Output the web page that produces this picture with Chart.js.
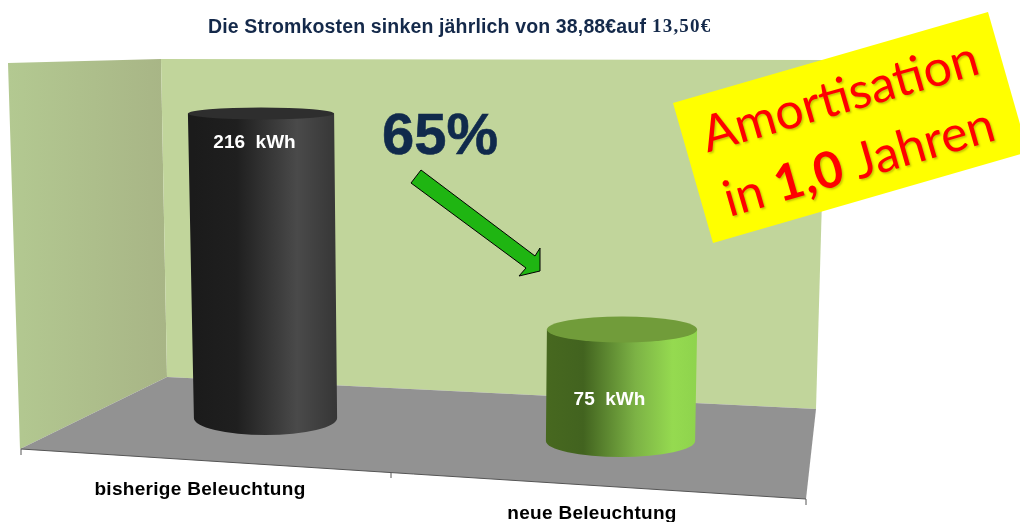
<!DOCTYPE html>
<html>
<head>
<meta charset="utf-8">
<script src="https://cdn.jsdelivr.net/npm/chart.js@4"></script>
<style>
    html, body { margin: 0; padding: 0; background: #fff; }
    #wrap { width: 1020px; height: 522px; }
</style>
</head>
<body>
<div id="wrap"><canvas id="kwhChart" width="1020" height="522"></canvas></div>
<script>
const categories = ['bisherige Beleuchtung', 'neue Beleuchtung'];
const kwhValues = [216, 75];
const valueUnit = 'kWh';
const titleText = 'Die Stromkosten sinken jährlich von 38,88€auf';
const titleNewCost = '13,50€';
const percentText = '65%';

// the original is a tilted 3D chart, this is how each column is moved on the floor
const columnTilt = [
    { drop: 0, stretch: 1, left: 4, right: 0, topLeft: -6, topRight: -3, ryTop: 6, ryBase: 17 },
    { drop: 23, stretch: 1.054, left: -3, right: -1, topLeft: 1, topRight: 2, ryTop: 13, ryBase: 16 }
];
const columnColors = [
    { stops: [[0, '#1b1b1b'], [0.3, '#1f1f1f'], [0.72, '#4a4a4a'], [1, '#363636']], cap: '#2e2e2e' },
    { stops: [[0, '#47681f'], [0.25, '#42631f'], [0.6, '#7cb245'], [0.85, '#95da50'], [1, '#8fd44d']], cap: '#719c3a' }
];
const labelPos = [{ dx: -9, dy: 29 }, { dx: -13, dy: 70 }];
const catLabelPos = [{ x: 200, y: 490 }, { x: 592, y: 514 }];

function poly(ctx, pts, fill) {
    ctx.beginPath();
    pts.forEach((p, i) => i ? ctx.lineTo(p[0], p[1]) : ctx.moveTo(p[0], p[1]));
    ctx.closePath();
    ctx.fillStyle = fill;
    ctx.fill();
}

const roomPlugin = {
    id: 'room',
    beforeDatasetsDraw(chart) {
        const ctx = chart.ctx;
        ctx.save();
        const side = ctx.createLinearGradient(8, 0, 165, 0);
        side.addColorStop(0, '#b3c991');
        side.addColorStop(1, '#a8b586');
        poly(ctx, [[8, 63], [161, 59], [167, 377], [20, 449]], side);
        poly(ctx, [[161, 59], [826, 60], [816, 409], [167, 377]], '#c1d59b');
        poly(ctx, [[167, 377], [816, 409], [806, 499], [20, 449]], '#929292');
        // front edge and its ticks
        ctx.strokeStyle = '#555';
        ctx.lineWidth = 1;
        ctx.beginPath();
        ctx.moveTo(21, 449); ctx.lineTo(806, 499);
        ctx.moveTo(21, 449); ctx.lineTo(21, 455);
        ctx.moveTo(391, 473); ctx.lineTo(391, 478);
        ctx.moveTo(806, 499); ctx.lineTo(806, 505);
        ctx.stroke();
        ctx.restore();
    },
    afterDatasetsDraw(chart) {
        const ctx = chart.ctx;
        const bars = chart.getDatasetMeta(0).data;
        ctx.save();
        bars.forEach((bar, i) => {
            const t = columnTilt[i];
            const c = columnColors[i];
            const base = bar.base + t.drop;
            const top = base - (bar.base - bar.y) * t.stretch;
            const l = bar.x - bar.width / 2 + t.left, r = bar.x + bar.width / 2 + t.right;
            const tl = l + t.topLeft, tr = r + t.topRight;
            const grad = ctx.createLinearGradient(l, 0, r, 0);
            c.stops.forEach(s => grad.addColorStop(s[0], s[1]));
            ctx.beginPath();
            ctx.moveTo(tl, top);
            ctx.lineTo(l, base);
            ctx.ellipse((l + r) / 2, base, (r - l) / 2, t.ryBase, 0, Math.PI, 0, true);
            ctx.lineTo(tr, top);
            ctx.closePath();
            ctx.fillStyle = grad;
            ctx.fill();
            ctx.beginPath();
            ctx.ellipse((tl + tr) / 2, top, (tr - tl) / 2, t.ryTop, 0, 0, Math.PI * 2);
            ctx.fillStyle = c.cap;
            ctx.fill();

            ctx.fillStyle = '#fff';
            ctx.font = 'bold 19px "Liberation Sans"';
            ctx.textAlign = 'center';
            ctx.textBaseline = 'middle';
            ctx.fillText(kwhValues[i] + '  ' + valueUnit, bar.x + labelPos[i].dx, top + labelPos[i].dy);

            ctx.fillStyle = '#000';
            ctx.font = 'bold 19px "Liberation Sans"';
            ctx.letterSpacing = '0.3px';
            ctx.fillText(categories[i], catLabelPos[i].x, catLabelPos[i].y);
            ctx.letterSpacing = '0px';
        });

        // title, the last amount is in another font in the original
        ctx.textAlign = 'left';
        ctx.textBaseline = 'alphabetic';
        ctx.fillStyle = '#14294a';
        ctx.font = 'bold 19.5px "Liberation Sans"';
        ctx.letterSpacing = '0.15px';
        ctx.fillText(titleText, 208, 33);
        ctx.font = 'bold 19px "Liberation Serif"';
        ctx.letterSpacing = '1.2px';
        ctx.fillText(titleNewCost, 652, 32);
        ctx.letterSpacing = '0px';

        ctx.font = 'bold 58px "Liberation Sans"';
        ctx.textAlign = 'center';
        ctx.fillStyle = '#102a4c';
        ctx.strokeStyle = '#102a4c';
        ctx.lineWidth = 0.6;
        ctx.fillText(percentText, 440, 154);
        ctx.strokeText(percentText, 440, 154);

        // arrow
        ctx.beginPath();
        [[421, 170], [411, 183], [526, 268], [519, 276], [540, 271], [540, 248], [535, 256]]
            .forEach((p, i) => i ? ctx.lineTo(p[0], p[1]) : ctx.moveTo(p[0], p[1]));
        ctx.closePath();
        ctx.fillStyle = '#1fb512';
        ctx.fill();
        ctx.strokeStyle = '#000';
        ctx.lineWidth = 1;
        ctx.stroke();

        // yellow sticker
        poly(ctx, [[988, 12], [673, 103], [713, 243], [1028, 152]], '#ffff00');
        ctx.translate(850, 128);
        ctx.rotate(-16.1 * Math.PI / 180);
        ctx.fillStyle = '#ff0000';
        ctx.shadowColor = 'rgba(0,0,0,0.22)';
        ctx.shadowOffsetX = 1.5;
        ctx.shadowOffsetY = 1.5;
        ctx.shadowBlur = 2;
        ctx.textAlign = 'center';
        ctx.font = '50px Lato';
        ctx.fillText('Amortisation', -1, -16);
        const parts = [['in ', '50px Lato'], ['1,0', 'bold 50px Lato'], [' Jahren', '50px Lato']];
        let total = 0;
        parts.forEach(p => { ctx.font = p[1]; total += ctx.measureText(p[0]).width; });
        ctx.textAlign = 'left';
        let x = -1 - total / 2;
        parts.forEach(p => {
            ctx.font = p[1];
            ctx.fillText(p[0], x, 52);
            x += ctx.measureText(p[0]).width;
        });
        ctx.restore();
    }
};

const kwhChart = new Chart(document.getElementById('kwhChart').getContext('2d'), {
    type: 'bar',
    data: {
        labels: categories,
        datasets: [{
            data: kwhValues,
            backgroundColor: 'rgba(0,0,0,0)',
            barPercentage: 0.41,
            categoryPercentage: 1
        }]
    },
    options: {
        responsive: false,
        animation: false,
        layout: { padding: { left: 84, right: 218, top: 12, bottom: 104 } },
        plugins: { legend: { display: false }, title: { display: false }, tooltip: { enabled: false } },
        scales: {
            x: { display: false },
            y: { display: false, min: 0, max: 288 }
        }
    },
    plugins: [roomPlugin]
});
</script>
</body>
</html>
